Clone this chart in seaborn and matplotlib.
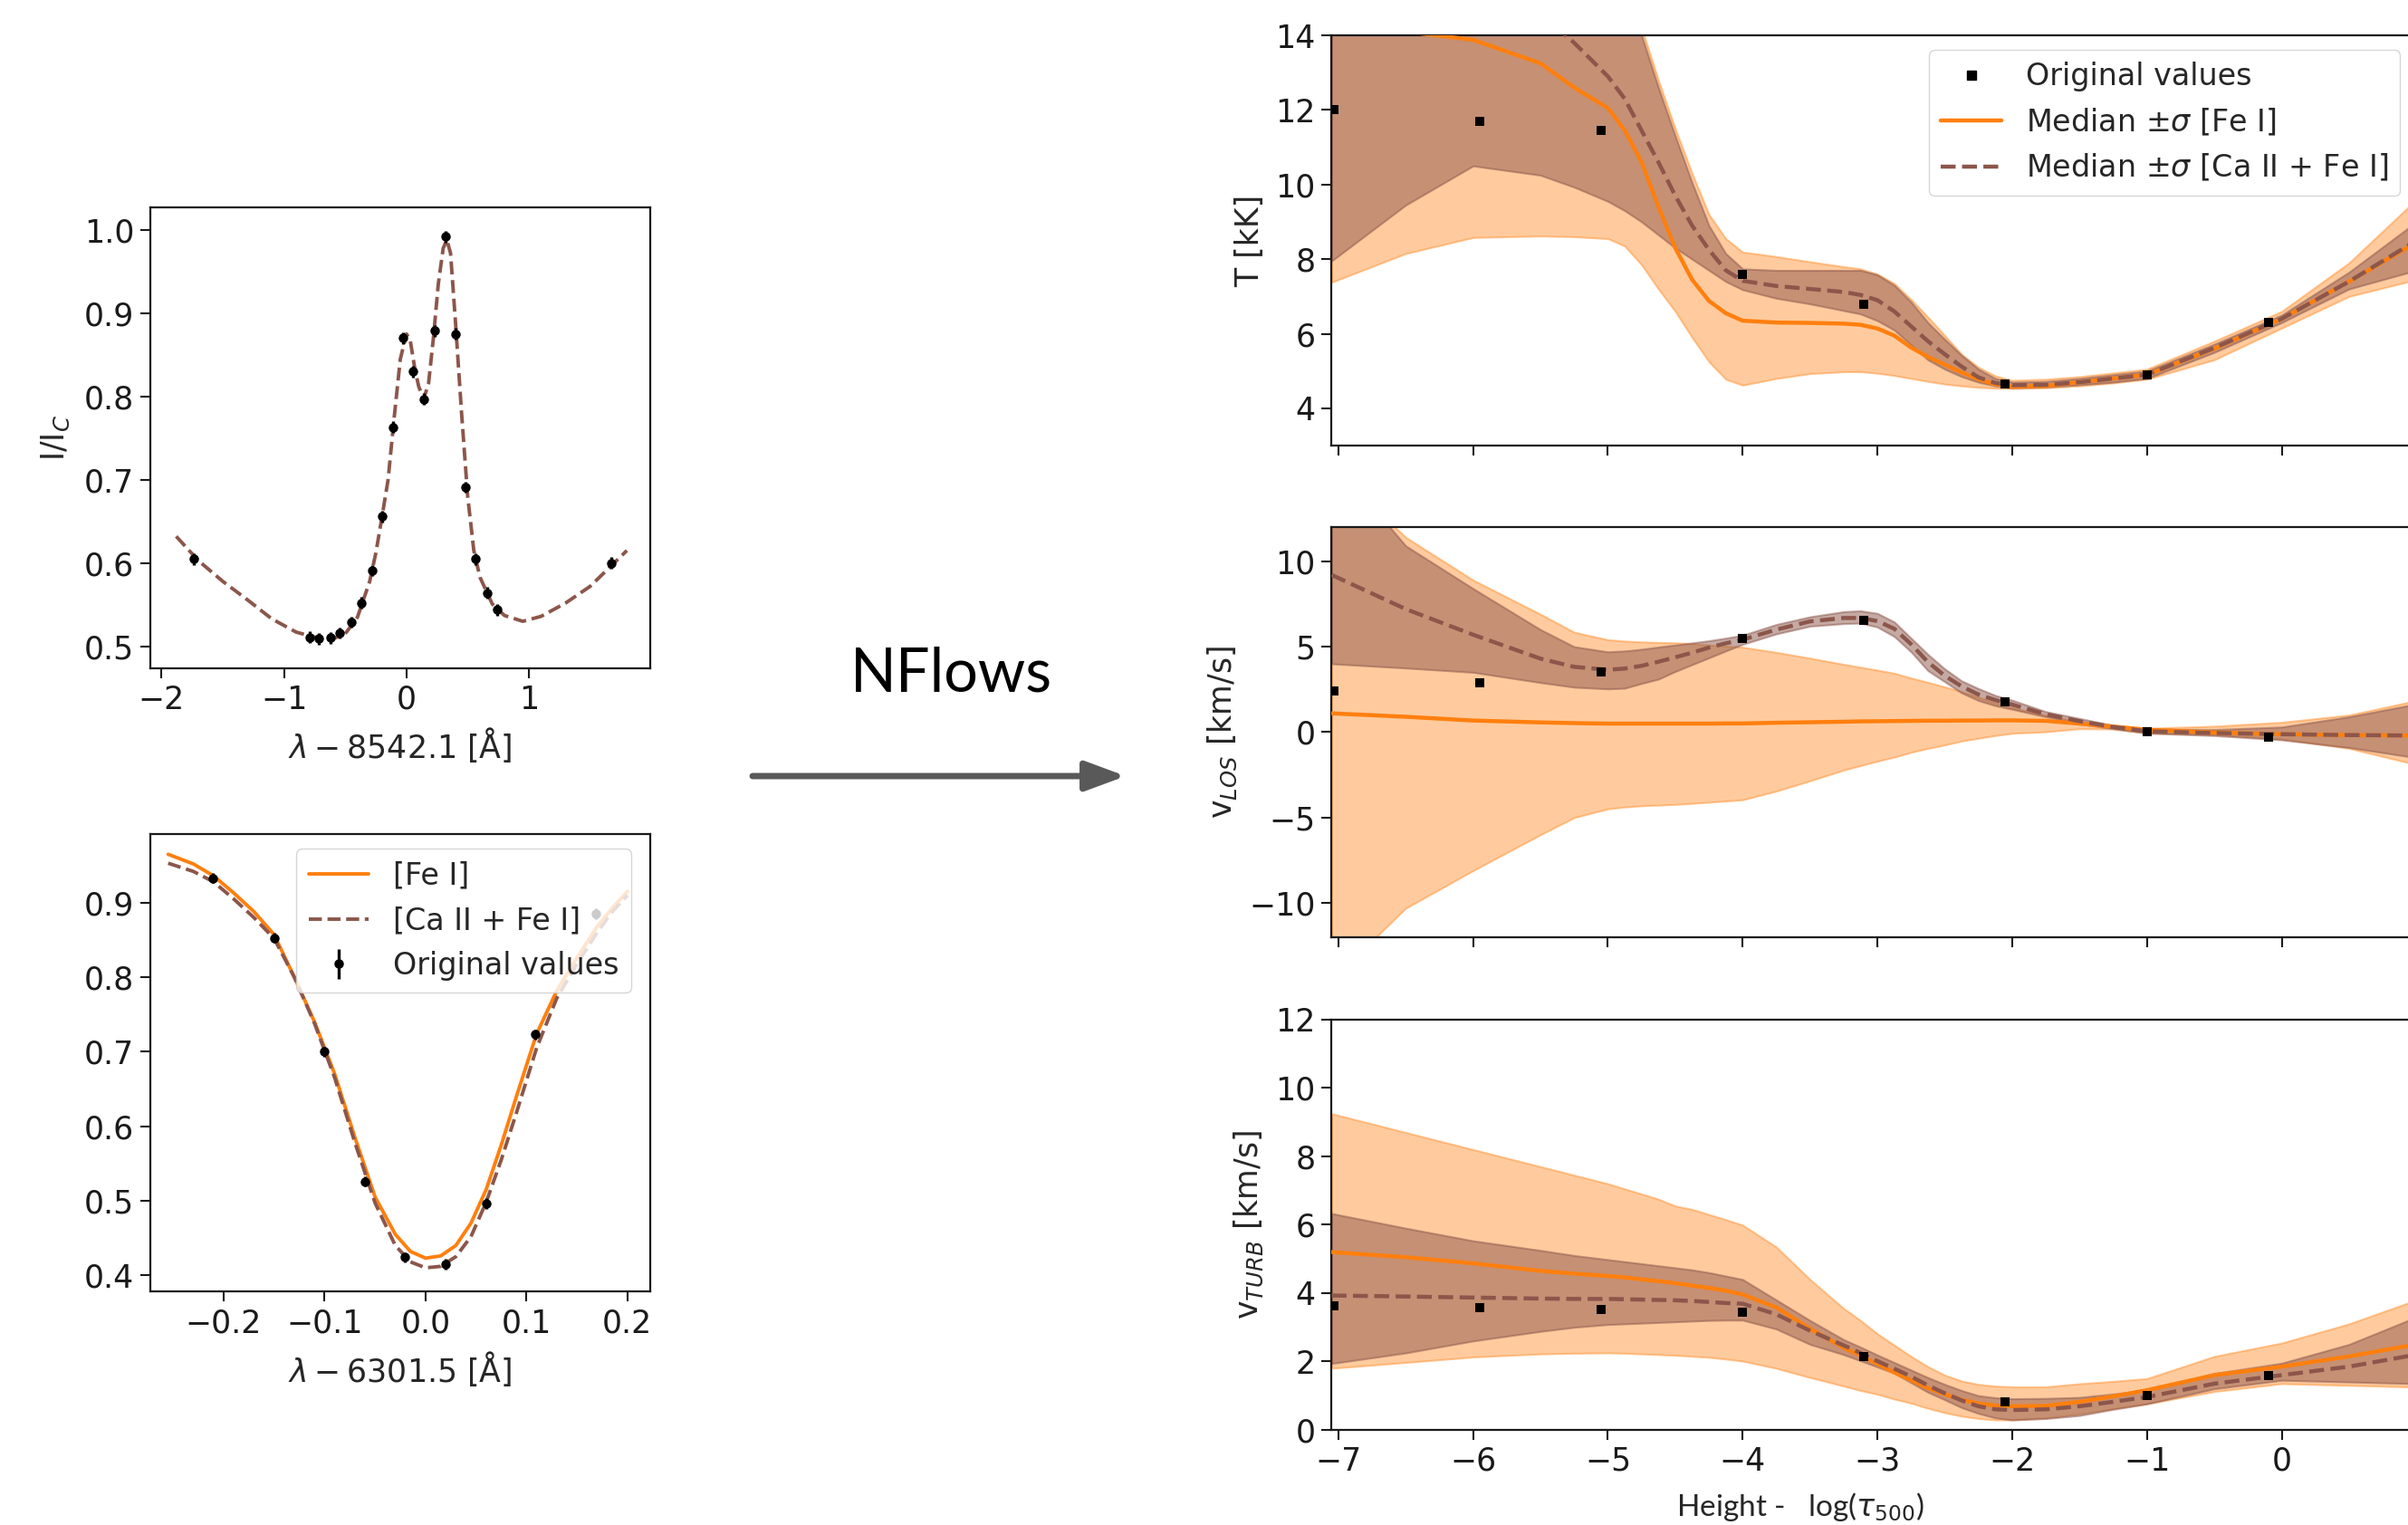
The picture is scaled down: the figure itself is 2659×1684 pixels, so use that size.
import matplotlib
matplotlib.use("Agg")
import matplotlib.pyplot as plt
from matplotlib.lines import Line2D
from matplotlib.patches import FancyArrowPatch
import seaborn as sns

ORANGE = "#ff7f0e"
BROWN = "#8c564b"

# ---------------- Ca II 8542 profile ----------------
ca_wav = [-1.88, -1.7, -1.5, -1.3, -1.1, -0.9, -0.75, -0.6, -0.5, -0.4, -0.3, -0.25,
          -0.2, -0.15, -0.1, -0.05, 0.0, 0.03, 0.07, 0.1, 0.14, 0.18, 0.22, 0.26, 0.3,
          0.33, 0.36, 0.4, 0.45, 0.5, 0.55, 0.6, 0.7, 0.8, 0.95, 1.1, 1.3, 1.5, 1.8]
ca_fit = [0.632, 0.603, 0.578, 0.556, 0.533, 0.517, 0.511, 0.509, 0.515, 0.535, 0.578,
          0.612, 0.655, 0.700, 0.775, 0.845, 0.875, 0.868, 0.832, 0.812, 0.797, 0.815,
          0.870, 0.935, 0.978, 0.988, 0.972, 0.890, 0.780, 0.680, 0.615, 0.583, 0.551,
          0.537, 0.530, 0.536, 0.552, 0.572, 0.615]
ca_obs_wav = [-1.735, -0.793, -0.714, -0.623, -0.543, -0.453, -0.37, -0.279, -0.196,
              -0.112, -0.025, 0.054, 0.145, 0.228, 0.319, 0.402, 0.482, 0.565, 0.656,
              0.743, 1.67]
ca_obs = [0.605, 0.511, 0.509, 0.510, 0.516, 0.529, 0.552, 0.591, 0.656, 0.763, 0.870,
          0.830, 0.797, 0.879, 0.992, 0.875, 0.691, 0.605, 0.564, 0.544, 0.600]
ca_err = [0.007] * len(ca_obs)

# ---------------- Fe I 6301.5 profile ----------------
fe_wav = [-0.255, -0.23, -0.21, -0.19, -0.17, -0.15, -0.13, -0.11, -0.09, -0.07, -0.05,
          -0.03, -0.015, 0.0, 0.015, 0.03, 0.045, 0.06, 0.075, 0.09, 0.11, 0.13, 0.15,
          0.17, 0.185, 0.2]
fe_fit_fe = [0.965, 0.952, 0.936, 0.913, 0.888, 0.857, 0.800, 0.740, 0.670, 0.585,
             0.505, 0.455, 0.432, 0.423, 0.426, 0.440, 0.470, 0.515, 0.575, 0.640,
             0.724, 0.782, 0.826, 0.868, 0.893, 0.915]
fe_fit_ca = [0.953, 0.942, 0.928, 0.905, 0.880, 0.852, 0.800, 0.738, 0.665, 0.578,
             0.497, 0.440, 0.418, 0.410, 0.412, 0.425, 0.452, 0.498, 0.555, 0.618,
             0.705, 0.772, 0.818, 0.860, 0.888, 0.910]
fe_obs_wav = [-0.211, -0.15, -0.10, -0.06, -0.021, 0.02, 0.06, 0.109, 0.169]
fe_obs = [0.933, 0.853, 0.700, 0.526, 0.424, 0.415, 0.496, 0.723, 0.885]
fe_err = [0.007] * len(fe_obs)

# ---------------- Atmospheric stratification ----------------
height = [-7.05, -6.5, -6.0, -5.5, -5.25, -5.0, -4.875, -4.75, -4.625, -4.5, -4.375,
          -4.25, -4.125, -4.0, -3.75, -3.5, -3.25, -3.125, -3.0, -2.875, -2.75, -2.625,
          -2.5, -2.375, -2.25, -2.125, -2.0, -1.75, -1.5, -1.25, -1.0, -0.5, 0.0, 0.5,
          1.0]
node_height = [-7.03, -5.95, -5.05, -4.0, -3.1, -2.05, -1.0, -0.1]

# temperature [kK]
T_fe_med = [14.5, 14.1, 13.88, 13.25, 12.6, 12.05, 11.45, 10.6, 9.4, 8.3, 7.45, 6.88,
            6.55, 6.35, 6.3, 6.29, 6.27, 6.24, 6.14, 5.95, 5.63, 5.38, 5.17, 4.96, 4.78,
            4.64, 4.58, 4.6, 4.7, 4.8, 4.9, 5.6, 6.4, 7.4, 8.45]
T_fe_hi = [17.0, 17.0, 17.0, 16.5, 16.0, 15.5, 15.0, 14.2, 12.8, 11.5, 10.3, 9.2, 8.55,
           8.19, 8.07, 7.93, 7.8, 7.74, 7.6, 7.35, 6.92, 6.45, 5.95, 5.45, 5.1, 4.87,
           4.75, 4.78, 4.85, 4.95, 5.05, 5.8, 6.6, 7.9, 9.6]
T_fe_lo = [7.38, 8.15, 8.58, 8.62, 8.6, 8.55, 8.35, 7.85, 7.2, 6.6, 5.9, 5.25, 4.78,
           4.62, 4.8, 4.93, 4.98, 4.98, 4.94, 4.88, 4.8, 4.72, 4.65, 4.6, 4.56, 4.54,
           4.53, 4.55, 4.6, 4.68, 4.78, 5.3, 6.15, 7.0, 7.45]
T_ca_med = [18.0, 17.0, 16.0, 14.6, 13.8, 12.9, 12.3, 11.45, 10.6, 9.7, 8.9, 8.25, 7.7,
            7.42, 7.28, 7.2, 7.12, 7.04, 6.9, 6.6, 6.2, 5.8, 5.45, 5.12, 4.83, 4.68,
            4.62, 4.63, 4.7, 4.8, 4.9, 5.62, 6.4, 7.4, 8.5]
T_ca_hi = [20.0, 20.0, 20.0, 20.0, 19.0, 18.0, 16.0, 14.0, 12.6, 11.3, 10.05, 8.9,
           8.15, 7.74, 7.7, 7.7, 7.7, 7.7, 7.58, 7.3, 6.85, 6.3, 5.85, 5.42, 5.05, 4.8,
           4.7, 4.72, 4.8, 4.9, 5.0, 5.72, 6.5, 7.65, 9.0]
T_ca_lo = [7.95, 9.45, 10.5, 10.25, 9.93, 9.55, 9.3, 9.0, 8.65, 8.3, 8.0, 7.7, 7.4,
           7.18, 6.95, 6.8, 6.62, 6.53, 6.35, 6.1, 5.7, 5.3, 5.05, 4.85, 4.7, 4.6, 4.55,
           4.57, 4.63, 4.7, 4.8, 5.5, 6.3, 7.2, 7.7]
T_orig = [12.0, 11.7, 11.45, 7.6, 6.8, 4.65, 4.9, 6.3]

# line-of-sight velocity [km/s]
V_fe_med = [1.1, 0.9, 0.68, 0.57, 0.53, 0.5, 0.5, 0.5, 0.5, 0.5, 0.5, 0.5, 0.51, 0.51,
            0.55, 0.58, 0.61, 0.63, 0.64, 0.65, 0.66, 0.67, 0.67, 0.68, 0.68, 0.69,
            0.69, 0.66, 0.5, 0.32, 0.14, -0.02, -0.12, -0.17, -0.2]
V_fe_hi = [15.5, 11.4, 8.9, 6.9, 5.85, 5.41, 5.33, 5.28, 5.25, 5.23, 5.18, 5.1, 5.04,
           4.97, 4.67, 4.33, 3.97, 3.8, 3.63, 3.45, 3.17, 2.92, 2.65, 2.38, 2.05, 1.72,
           1.43, 1.0, 0.62, 0.42, 0.23, 0.35, 0.58, 1.0, 1.85]
V_fe_lo = [-14.5, -10.3, -8.1, -6.0, -5.0, -4.49, -4.38, -4.31, -4.27, -4.23, -4.17,
           -4.1, -4.03, -3.96, -3.45, -2.85, -2.22, -1.96, -1.7, -1.46, -1.18, -0.95,
           -0.75, -0.52, -0.36, -0.2, -0.07, 0.02, 0.2, 0.18, -0.05, -0.15, -0.4, -0.95,
           -1.9]
V_ca_med = [9.2, 7.2, 5.7, 4.3, 3.82, 3.65, 3.72, 3.88, 4.12, 4.38, 4.65, 4.95, 5.2,
            5.41, 6.0, 6.48, 6.68, 6.68, 6.5, 6.05, 5.15, 4.1, 3.3, 2.68, 2.2, 1.88,
            1.61, 1.05, 0.64, 0.3, 0.05, -0.05, -0.12, -0.17, -0.2]
V_ca_hi = [16.0, 10.9, 8.4, 6.0, 5.0, 4.7, 4.75, 4.85, 4.98, 5.1, 5.22, 5.35, 5.5, 5.67,
           6.3, 6.75, 7.05, 7.1, 6.95, 6.45, 5.5, 4.55, 3.7, 3.0, 2.55, 2.15, 1.87, 1.2,
           0.8, 0.4, 0.18, 0.15, 0.3, 0.9, 1.65]
V_ca_lo = [4.0, 3.75, 3.5, 2.9, 2.63, 2.53, 2.57, 2.85, 3.1, 3.55, 3.95, 4.35, 4.75,
           5.14, 5.75, 6.2, 6.35, 6.38, 6.15, 5.6, 4.7, 3.6, 2.95, 2.3, 1.85, 1.55,
           1.34, 0.9, 0.48, 0.2, -0.06, -0.2, -0.45, -0.9, -1.5]
V_orig = [2.4, 2.88, 3.5, 5.48, 6.54, 1.77, 0.05, -0.27]

# micro-turbulence [km/s]
U_fe_med = [5.2, 5.05, 4.87, 4.65, 4.57, 4.5, 4.46, 4.4, 4.35, 4.29, 4.22, 4.15, 4.07,
            3.96, 3.58, 2.96, 2.4, 2.17, 1.93, 1.68, 1.45, 1.22, 1.04, 0.88, 0.77, 0.71,
            0.69, 0.7, 0.82, 0.98, 1.16, 1.6, 1.85, 2.15, 2.5]
U_fe_hi = [9.25, 8.7, 8.2, 7.7, 7.45, 7.2, 7.05, 6.9, 6.75, 6.55, 6.45, 6.3, 6.15, 5.99,
           5.35, 4.4, 3.55, 3.2, 2.81, 2.48, 2.15, 1.85, 1.6, 1.43, 1.33, 1.28, 1.26,
           1.26, 1.35, 1.42, 1.5, 2.15, 2.54, 3.1, 3.8]
U_fe_lo = [1.8, 1.97, 2.13, 2.22, 2.24, 2.25, 2.24, 2.22, 2.2, 2.18, 2.15, 2.12, 2.07,
           2.01, 1.8, 1.53, 1.28, 1.15, 1.04, 0.9, 0.78, 0.63, 0.5, 0.4, 0.33, 0.29,
           0.29, 0.35, 0.47, 0.62, 0.76, 1.12, 1.35, 1.3, 1.25]
U_ca_med = [3.93, 3.9, 3.87, 3.84, 3.83, 3.83, 3.82, 3.81, 3.8, 3.79, 3.77, 3.74, 3.71,
            3.69, 3.38, 2.9, 2.47, 2.25, 2.01, 1.79, 1.56, 1.3, 1.07, 0.86, 0.69, 0.6,
            0.58, 0.6, 0.69, 0.82, 0.96, 1.35, 1.6, 1.85, 2.2]
U_ca_hi = [6.33, 5.9, 5.53, 5.25, 5.1, 4.98, 4.92, 4.86, 4.8, 4.74, 4.68, 4.6, 4.5, 4.4,
           3.8, 3.2, 2.64, 2.42, 2.19, 1.97, 1.75, 1.53, 1.33, 1.15, 1.0, 0.94, 0.91,
           0.92, 0.95, 1.05, 1.16, 1.65, 1.95, 2.5, 3.3]
U_ca_lo = [1.94, 2.25, 2.6, 2.88, 3.0, 3.08, 3.1, 3.12, 3.14, 3.16, 3.18, 3.2, 3.21, 3.21,
           2.95, 2.5, 2.2, 2.02, 1.84, 1.66, 1.38, 1.1, 0.88, 0.65, 0.48, 0.35, 0.29,
           0.33, 0.42, 0.6, 0.76, 1.2, 1.45, 1.4, 1.35]
U_orig = [3.62, 3.57, 3.52, 3.43, 2.15, 0.81, 1.0, 1.6]

# ---------------- style ----------------
sns.set_theme(style="ticks")
plt.rcParams["font.family"] = ["DejaVu Sans"]
plt.rcParams["axes.edgecolor"] = "#1a1a1a"
plt.rcParams["axes.linewidth"] = 1.6

TICK = 25
LEG = 24

fig = plt.figure(figsize=(26.59, 16.84), dpi=100)
fig.patch.set_facecolor("white")


def style_axes(ax):
    ax.tick_params(axis="both", which="major", length=8, width=1.5, labelsize=TICK,
                   color="#1a1a1a", labelcolor="#1a1a1a", pad=5)
    for sp in ax.spines.values():
        sp.set_visible(True)
        sp.set_linewidth(1.6)


# ---- Ca II 8542 ----
ax_ca = fig.add_axes([0.0625, 0.562, 0.2075, 0.302])
sns.lineplot(x=ca_wav, y=ca_fit, ax=ax_ca, color=BROWN, linestyle="--", linewidth=2.8,
             estimator=None, sort=False, zorder=3)
ax_ca.errorbar(ca_obs_wav, ca_obs, yerr=ca_err, fmt="o", color="black", ms=6.5,
               elinewidth=2.4, capsize=0, zorder=4)
ax_ca.set_xlim(-2.09, 1.99)
ax_ca.set_ylim(0.474, 1.027)
ax_ca.set_xticks([-2, -1, 0, 1])
ax_ca.set_yticks([0.5, 0.6, 0.7, 0.8, 0.9, 1.0])
ax_ca.set_xlabel(r"$\lambda - 8542.1$ [Å]", fontsize=TICK, labelpad=8)
ax_ca.set_ylabel(r"I/I$_C$", fontsize=TICK, labelpad=10)
style_axes(ax_ca)

# ---- Fe I 6301.5 ----
ax_fe = fig.add_axes([0.0625, 0.153, 0.2075, 0.300])
sns.lineplot(x=fe_wav, y=fe_fit_fe, ax=ax_fe, color=ORANGE, linewidth=2.8,
             estimator=None, sort=False, zorder=3)
sns.lineplot(x=fe_wav, y=fe_fit_ca, ax=ax_fe, color=BROWN, linestyle="--", linewidth=2.8,
             estimator=None, sort=False, zorder=3)
ax_fe.errorbar(fe_obs_wav, fe_obs, yerr=fe_err, fmt="o", color="black", ms=6.5,
               elinewidth=2.4, capsize=0, zorder=4)
ax_fe.set_xlim(-0.2725, 0.2225)
ax_fe.set_ylim(0.378, 0.992)
ax_fe.set_xticks([-0.2, -0.1, 0.0, 0.1, 0.2])
ax_fe.set_yticks([0.4, 0.5, 0.6, 0.7, 0.8, 0.9])
ax_fe.set_xlabel(r"$\lambda - 6301.5$ [Å]", fontsize=TICK, labelpad=8)
style_axes(ax_fe)

eb_handle = ax_fe.errorbar([], [], yerr=[], fmt="o", color="black", ms=6.5,
                           elinewidth=2.4, capsize=0)
fe_handles = [Line2D([], [], color=ORANGE, lw=2.8),
              Line2D([], [], color=BROWN, lw=2.8, ls="--"),
              eb_handle]
ax_fe.legend(fe_handles, ["[Fe I]", "[Ca II + Fe I]", "Original values"],
             loc="upper right", bbox_to_anchor=(0.962, 0.968), borderaxespad=0,
             fontsize=LEG, framealpha=0.8, edgecolor="#cccccc")

# ---- stratification panels ----
RIGHT_X = 0.553
RIGHT_W = 0.4505
panels = [
    (0.7078, T_fe_med, T_fe_lo, T_fe_hi, T_ca_med, T_ca_lo, T_ca_hi, T_orig,
     (3.0, 14.0), [4, 6, 8, 10, 12, 14], "T [kK]"),
    (0.3854, V_fe_med, V_fe_lo, V_fe_hi, V_ca_med, V_ca_lo, V_ca_hi, V_orig,
     (-12.0, 12.0), [-10, -5, 0, 5, 10], r"v$_{LOS}$ [km/s]"),
    (0.0624, U_fe_med, U_fe_lo, U_fe_hi, U_ca_med, U_ca_lo, U_ca_hi, U_orig,
     (0.0, 12.0), [0, 2, 4, 6, 8, 10, 12], r"v$_{TURB}$ [km/s]"),
]

right_axes = []
for i, (bottom, fmed, flo, fhi, cmed, clo, chi, orig, ylim, yticks, ylab) in enumerate(panels):
    ax = fig.add_axes([RIGHT_X, bottom, RIGHT_W, 0.269])
    ax.fill_between(height, flo, fhi, color=ORANGE, alpha=0.4, linewidth=1.5, zorder=1)
    ax.fill_between(height, clo, chi, color=BROWN, alpha=0.5, linewidth=1.5, zorder=2)
    sns.lineplot(x=height, y=fmed, ax=ax, color=ORANGE, linewidth=3.2,
                 estimator=None, sort=False, zorder=3)
    sns.lineplot(x=height, y=cmed, ax=ax, color=BROWN, linestyle="--", linewidth=3.2,
                 estimator=None, sort=False, zorder=4)
    sns.scatterplot(x=node_height, y=orig, ax=ax, marker="s", color="black", s=55,
                    linewidth=0, zorder=5)
    ax.set_xlim(-7.05, 1.0)
    ax.set_ylim(*ylim)
    ax.set_yticks(yticks)
    ax.set_xticks([-7, -6, -5, -4, -3, -2, -1, 0])
    ax.set_ylabel(ylab, fontsize=TICK, labelpad=8)
    style_axes(ax)
    if i < 2:
        ax.tick_params(axis="x", labelbottom=False)
    right_axes.append(ax)

leg_handles = [Line2D([], [], color="black", marker="s", ls="none", ms=7),
               Line2D([], [], color=ORANGE, lw=3.2),
               Line2D([], [], color=BROWN, lw=3.2, ls="--")]
right_axes[0].legend(leg_handles,
                     ["Original values", r"Median $\pm\sigma$ [Fe I]",
                      r"Median $\pm\sigma$ [Ca II + Fe I]"],
                     loc="upper right", bbox_to_anchor=(0.985, 0.965), borderaxespad=0,
                     fontsize=LEG, framealpha=0.8, edgecolor="#cccccc")

fig.text(1988 / 2659, 1 - 1664 / 1684, r"Height -   log($\tau_{500}$)",
         fontsize=24, family=["Lato", "DejaVu Sans"], ha="center", va="center")

# ---- NFlows arrow ----
fig.text(1050 / 2659, 1 - 745 / 1684, "NFlows", fontsize=48,
         family=["Lato", "DejaVu Sans"], ha="center", va="center", color="black")
arrow = FancyArrowPatch((831 / 2659, 1 - 857 / 1684), (1243 / 2659, 1 - 857 / 1684),
                        transform=fig.transFigure,
                        arrowstyle="-|>,head_length=2.7,head_width=1.0",
                        mutation_scale=10, lw=5, color="#595959",
                        shrinkA=0, shrinkB=0)
fig.add_artist(arrow)

fig.savefig("out.png", dpi=100, facecolor="white")
